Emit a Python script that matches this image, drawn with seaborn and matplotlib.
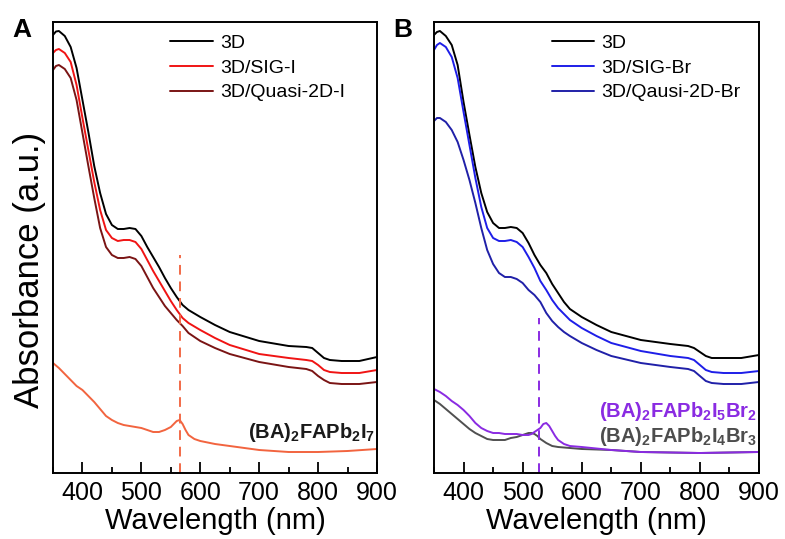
import numpy as np
import pandas as pd
import matplotlib
matplotlib.use("Agg")
import matplotlib.pyplot as plt
from matplotlib.ticker import MultipleLocator
from matplotlib.lines import Line2D
import seaborn as sns

# ---------------- data ----------------
wl = [350, 355, 360, 370, 380, 390, 400, 410, 420, 430, 440, 450, 460, 470, 480,
      490, 500, 510, 520, 530, 540, 550, 560, 570, 580, 600, 625, 650, 700, 750,
      780, 790, 800, 810, 820, 840, 870, 900]

a_3d = [4.38, 4.415, 4.42, 4.37, 4.26, 4.05, 3.73, 3.41, 3.07, 2.80, 2.59, 2.48, 2.44,
        2.44, 2.45, 2.44, 2.37, 2.26, 2.16, 2.06, 1.95, 1.85, 1.76, 1.68, 1.63, 1.56,
        1.48, 1.41, 1.32, 1.27, 1.26, 1.25, 1.20, 1.15, 1.13, 1.12, 1.12, 1.16]
a_sig_i = [4.20, 4.23, 4.24, 4.20, 4.11, 3.88, 3.55, 3.23, 2.91, 2.63, 2.43, 2.35, 2.32,
           2.33, 2.33, 2.31, 2.24, 2.13, 2.02, 1.92, 1.82, 1.72, 1.63, 1.55, 1.50, 1.43,
           1.35, 1.28, 1.19, 1.15, 1.13, 1.12, 1.08, 1.03, 1.01, 1.00, 1.00, 1.03]
a_quasi_i = [4.03, 4.07, 4.08, 4.04, 3.95, 3.73, 3.40, 3.07, 2.75, 2.45, 2.26, 2.18, 2.15,
             2.15, 2.16, 2.14, 2.07, 1.96, 1.85, 1.76, 1.67, 1.60, 1.53, 1.47, 1.40, 1.32,
             1.25, 1.19, 1.11, 1.06, 1.04, 1.02, 0.97, 0.93, 0.90, 0.89, 0.89, 0.91]

wl_2d_i = [350, 360, 370, 380, 390, 400, 410, 420, 430, 440, 450, 460, 470, 480, 490,
           500, 510, 520, 530, 540, 550, 555, 560, 565, 570, 575, 580, 590, 600, 625,
           650, 700, 750, 800, 850, 900]
a_2d_i = [1.10, 1.05, 0.99, 0.93, 0.87, 0.83, 0.77, 0.71, 0.64, 0.57, 0.53, 0.50, 0.48,
          0.47, 0.46, 0.45, 0.43, 0.41, 0.41, 0.43, 0.46, 0.49, 0.52, 0.53, 0.49, 0.43,
          0.38, 0.34, 0.32, 0.29, 0.27, 0.23, 0.21, 0.21, 0.22, 0.24]

b_3d = [4.38, 4.41, 4.42, 4.37, 4.28, 4.08, 3.71, 3.38, 3.06, 2.80, 2.61, 2.50, 2.45,
        2.45, 2.46, 2.45, 2.40, 2.30, 2.18, 2.08, 2.00, 1.89, 1.80, 1.71, 1.64, 1.56,
        1.48, 1.41, 1.33, 1.29, 1.27, 1.25, 1.21, 1.17, 1.15, 1.15, 1.15, 1.18]
b_sig_br = [4.23, 4.28, 4.30, 4.26, 4.16, 3.95, 3.61, 3.28, 2.95, 2.66, 2.45, 2.35, 2.32,
            2.32, 2.33, 2.31, 2.26, 2.16, 2.05, 1.92, 1.83, 1.73, 1.65, 1.59, 1.53, 1.45,
            1.37, 1.30, 1.22, 1.17, 1.15, 1.13, 1.08, 1.03, 1.01, 1.00, 1.00, 1.02]
b_quasi_br = [3.52, 3.55, 3.55, 3.51, 3.43, 3.31, 3.13, 2.93, 2.70, 2.45, 2.23, 2.09, 2.00,
              1.96, 1.96, 1.94, 1.90, 1.83, 1.78, 1.71, 1.60, 1.52, 1.46, 1.41, 1.37, 1.30,
              1.23, 1.17, 1.10, 1.06, 1.04, 1.02, 0.97, 0.92, 0.90, 0.89, 0.89, 0.91]

wl_i5br2 = [350, 360, 370, 380, 390, 400, 410, 420, 430, 440, 450, 460, 470, 480, 490,
            500, 510, 515, 520, 525, 530, 535, 540, 545, 550, 555, 560, 570, 580, 600,
            650, 700, 800, 900]
a_i5br2 = [0.84, 0.81, 0.77, 0.72, 0.68, 0.63, 0.57, 0.50, 0.45, 0.42, 0.40, 0.40, 0.39,
           0.39, 0.39, 0.38, 0.38, 0.39, 0.41, 0.43, 0.45, 0.49, 0.50, 0.47, 0.42, 0.37,
           0.33, 0.29, 0.27, 0.26, 0.23, 0.21, 0.20, 0.21]

wl_i4br3 = [350, 360, 370, 380, 390, 400, 410, 420, 430, 440, 450, 460, 470, 480, 490,
            500, 510, 515, 520, 525, 530, 540, 550, 560, 580, 600, 650, 700, 800, 900]
a_i4br3 = [0.73, 0.69, 0.64, 0.59, 0.54, 0.49, 0.44, 0.40, 0.37, 0.34, 0.33, 0.33, 0.33,
           0.35, 0.36, 0.38, 0.40, 0.40, 0.39, 0.37, 0.34, 0.30, 0.27, 0.26, 0.25, 0.24,
           0.23, 0.21, 0.20, 0.21]

peak_a = 565      # dashed marker, panel A (nm)
peak_b = 528      # dashed marker, panel B (nm)
dash_top_a = 2.18
dash_top_b = 1.55

labels_a = ["3D", "3D/SIG-I", "3D/Quasi-2D-I"]
labels_b = ["3D", "3D/SIG-Br", "3D/Qausi-2D-Br"]
xticks = [400, 500, 600, 700, 800, 900]

# ---------------- style ----------------
sns.set_style("ticks")
plt.rcParams["font.family"] = ["Liberation Sans", "DejaVu Sans"]
plt.rcParams["mathtext.fontset"] = "custom"
plt.rcParams["mathtext.rm"] = "Liberation Sans"
plt.rcParams["mathtext.bf"] = "Liberation Sans:bold"
plt.rcParams["mathtext.it"] = "Liberation Sans:italic"
for k in ("text.color", "axes.labelcolor", "xtick.color", "ytick.color", "axes.edgecolor"):
    plt.rcParams[k] = "#000000"

W, H = 785, 539
fig = plt.figure(figsize=(W / 100, H / 100), dpi=100)
axA = fig.add_axes([53 / W, 1 - 473 / H, (377 - 53) / W, (473 - 22) / H])
axB = fig.add_axes([434 / W, 1 - 473 / H, (759 - 434) / W, (473 - 22) / H])

LW = 1.4
colA = ["#000000", "#f01414", "#7a1414"]
colB = ["#000000", "#1e1ee8", "#2020a8"]


def draw_main(ax, series, labels, cols):
    for y, c in zip(series, cols):
        df = pd.DataFrame({"wl": wl, "abs": y})
        sns.lineplot(data=df, x="wl", y="abs", ax=ax, color=c, lw=LW, legend=False)
    handles = [Line2D([], [], color=c, lw=LW) for c in cols]
    ax.legend(handles, labels, loc="upper left", bbox_to_anchor=(0.362, 0.973),
              frameon=False, fontsize=14, handlelength=2.2, handletextpad=0.35,
              labelspacing=0.37, borderpad=0, borderaxespad=0)


draw_main(axA, [a_3d, a_sig_i, a_quasi_i], labels_a, colA)
sns.lineplot(x=wl_2d_i, y=a_2d_i, ax=axA, color="#f2643f", lw=LW)
axA.vlines(peak_a, 0, dash_top_a, colors="#f26a48", linestyles=(0, (5, 3.5)), lw=1.4)
axA.text(897, 0.35, r"$\mathbf{(BA)_2FAPb_2I_7}$", fontsize=14.5, color="#1a1a1a",
         ha="right", va="baseline")

draw_main(axB, [b_3d, b_sig_br, b_quasi_br], labels_b, colB)
sns.lineplot(x=wl_i4br3, y=a_i4br3, ax=axB, color="#505050", lw=LW)
sns.lineplot(x=wl_i5br2, y=a_i5br2, ax=axB, color="#8a2be2", lw=LW)
axB.vlines(peak_b, 0, dash_top_b, colors="#8a2be2", linestyles=(0, (5, 3.5)), lw=1.4)
axB.text(897, 0.56, r"$\mathbf{(BA)_2FAPb_2I_5Br_2}$", fontsize=14.5, color="#8a2be2",
         ha="right", va="baseline")
axB.text(897, 0.31, r"$\mathbf{(BA)_2FAPb_2I_4Br_3}$", fontsize=14.5, color="#4d4d4d",
         ha="right", va="baseline")

for ax in (axA, axB):
    ax.set_xlim(350, 900)
    ax.set_ylim(0, 4.51)
    ax.set_xticks(xticks)
    ax.xaxis.set_minor_locator(MultipleLocator(50))
    ax.set_yticks([])
    ax.tick_params(axis="x", which="major", direction="in", length=8, width=1.3,
                   labelsize=18, pad=6, top=False, colors="#000000")
    ax.tick_params(axis="x", which="minor", direction="in", length=4.5, width=1.3, top=False)
    for s in ax.spines.values():
        s.set_visible(True)
        s.set_linewidth(1.4)
        s.set_color("#000000")
    ax.set_xlabel("Wavelength (nm)", fontsize=21, labelpad=1)
    ax.set_ylabel("")

axA.set_ylabel("Absorbance (a.u.)", fontsize=25)
axA.yaxis.set_label_coords(-0.022, 0.45)

fig.text(12 / W, 1 - 37 / H, "A", fontsize=19, fontweight="bold", ha="left", va="baseline")
fig.text(393 / W, 1 - 37 / H, "B", fontsize=19, fontweight="bold", ha="left", va="baseline")

fig.savefig("out.png", dpi=100)
